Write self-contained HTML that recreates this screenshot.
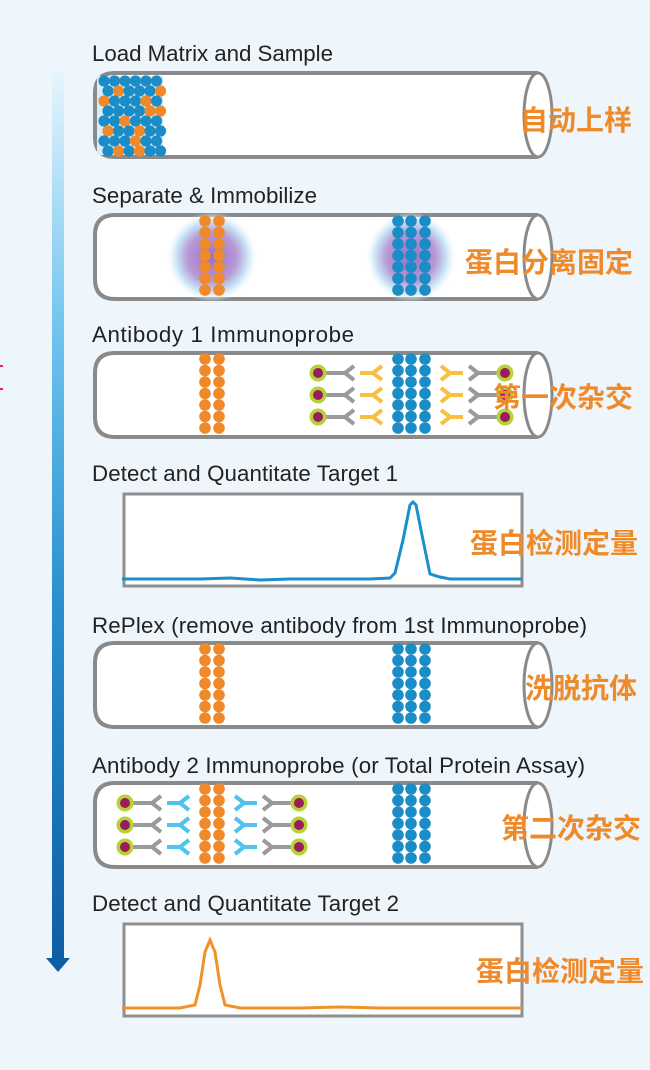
<!DOCTYPE html>
<html><head><meta charset="utf-8"><style>
html,body{margin:0;padding:0;background:#eef6fc;}
svg{display:block}
.t{font-family:"Liberation Sans","DejaVu Sans",sans-serif;font-size:22.3px;fill:#222}
.c{font-family:"Liberation Sans","Noto Sans CJK SC",sans-serif;font-size:28px;font-weight:bold;fill:#ef8a2a;text-anchor:end}
</style></head><body>
<svg id="s" width="650" height="1070" xmlns="http://www.w3.org/2000/svg">
<defs>
<linearGradient id="ar" x1="0" y1="0" x2="0" y2="1">
<stop offset="0" stop-color="#e8f5fd"/><stop offset="0.3" stop-color="#6cc3ee"/><stop offset="0.6" stop-color="#2a8fcf"/><stop offset="1" stop-color="#0d5ea5"/></linearGradient>
<radialGradient id="gl"><stop offset="0" stop-color="#9b6fc0"/><stop offset="0.55" stop-color="#b79ad6"/><stop offset="0.8" stop-color="#c9e6f7"/><stop offset="1" stop-color="#eef6fc" stop-opacity="0"/></radialGradient>
</defs>
<rect x="0" y="365" width="3" height="2" fill="#e0208a"/><rect x="0" y="388" width="3" height="2" fill="#e0208a"/>
<rect x="52" y="70" width="12" height="890" fill="url(#ar)"/>
<polygon points="46,958 70,958 58,972" fill="#0d5ea5"/>
<text class="t" x="92" y="61" textLength="241">Load Matrix and Sample</text>
<text class="t" x="92" y="203" textLength="225">Separate &amp; Immobilize</text>
<text class="t" x="92" y="342" textLength="262">Antibody 1 Immunoprobe</text>
<text class="t" x="92" y="481" textLength="306">Detect and Quantitate Target 1</text>
<text class="t" x="92" y="633" textLength="495">RePlex (remove antibody from 1st Immunoprobe)</text>
<text class="t" x="92" y="773" textLength="493">Antibody 2 Immunoprobe (or Total Protein Assay)</text>
<text class="t" x="92" y="911" textLength="307">Detect and Quantitate Target 2</text>
<g id="g"></g>
<rect x="124" y="494" width="398" height="92" fill="#fff" stroke="#8f8f8f" stroke-width="3"/>
<polyline fill="none" stroke="#1a8fc9" stroke-width="3" points="122,579 200,579 230,578 260,580 290,579 370,579 390,578 395,573 403,540 410,505 413,502 416,505 423,540 430,574 440,577 450,579 522,579"/>
<rect x="124" y="924" width="398" height="92" fill="#fff" stroke="#8f8f8f" stroke-width="3"/>
<polyline fill="none" stroke="#f0922b" stroke-width="3" points="122,1008 180,1008 195,1005 200,985 205,952 210,940 215,952 220,985 225,1005 240,1008 300,1008 340,1007 380,1008 522,1008"/>
<text class="c" x="632" y="130">自动上样</text>
<text class="c" x="633" y="272">蛋白分离固定</text>
<text class="c" x="633" y="407">第一次杂交</text>
<text class="c" x="638" y="553">蛋白检测定量</text>
<text class="c" x="637" y="698">洗脱抗体</text>
<text class="c" x="641" y="838">第二次杂交</text>
<text class="c" x="644" y="981">蛋白检测定量</text>
</svg>
<script>
var g=document.getElementById('g'),h='';
function tube(y){h+='<path d="M538,'+y+' L115,'+y+' Q95,'+y+' 95,'+(y+20)+' L95,'+(y+64)+' Q95,'+(y+84)+' 115,'+(y+84)+' L538,'+(y+84)+'" fill="#fff" stroke="#8a8a8a" stroke-width="4"/><ellipse cx="538" cy="'+(y+42)+'" rx="14" ry="42" fill="#fff" stroke="#8a8a8a" stroke-width="3"/>';}
function col(x,y0,c){for(var i=0;i<7;i++)h+='<circle cx="'+x+'" cy="'+(y0+6+i*11.5)+'" r="5.8" fill="'+c+'"/>';}
function band(y0,o,b){if(o){col(205,y0,'#f0892a');col(219,y0,'#f0892a');}if(b){col(398,y0,'#1a8cc6');col(411,y0,'#1a8cc6');col(425,y0,'#1a8cc6');}}
function ab(x0,y,s,col2){
 h+='<path d="M'+(x0+s*8)+','+(y-7)+' L'+(x0+s*17)+','+y+' L'+(x0+s*8)+','+(y+7)+' M'+(x0+s*17)+','+y+' L'+(x0+s*30)+','+y+'" stroke="'+col2+'" stroke-width="4" fill="none" stroke-linejoin="round"/>';
 h+='<path d="M'+(x0+s*36)+','+(y-7)+' L'+(x0+s*45)+','+y+' L'+(x0+s*36)+','+(y+7)+' M'+(x0+s*45)+','+y+' L'+(x0+s*64)+','+y+'" stroke="#9a9a9a" stroke-width="4" fill="none" stroke-linejoin="round"/>';
 h+='<circle cx="'+(x0+s*72)+'" cy="'+y+'" r="8.5" fill="#b5d334"/><circle cx="'+(x0+s*72)+'" cy="'+y+'" r="5" fill="#9a1b5e"/>';}
tube(73);
h+='<rect x="97" y="76" width="66" height="79" fill="#d8ecf9"/>';
var seed=7;function rnd(){seed=(seed*9301+49297)%233280;return seed/233280;}
for(var r=0;r<8;r++)for(var c=0;c<6;c++){var x=104+c*10.5+(r%2)*4,y=81+r*10;h+='<circle cx="'+x+'" cy="'+y+'" r="5.6" fill="'+(rnd()<0.62?'#1a8cc6':'#f0892a')+'"/>';}
tube(215);h+='<circle cx="212" cy="257" r="45" fill="url(#gl)"/><circle cx="411" cy="257" r="45" fill="url(#gl)"/>';band(215,1,1);
tube(353);band(353,1,1);[373,395,417].forEach(function(y){ab(390,y,-1,'#f7c043');ab(433,y,1,'#f7c043');});
tube(643);band(643,1,1);
tube(783);band(783,1,1);[803,825,847].forEach(function(y){ab(197,y,-1,'#4fc3ee');ab(227,y,1,'#4fc3ee');});
g.innerHTML=h;
</script>
</body></html>
